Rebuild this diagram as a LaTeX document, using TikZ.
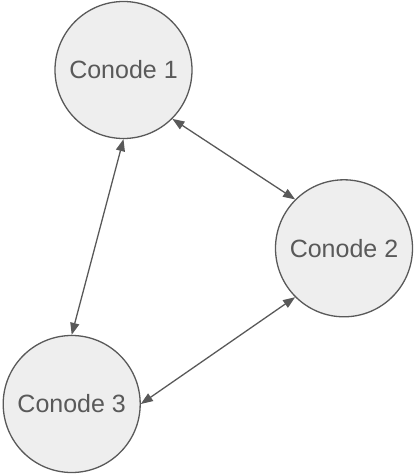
\documentclass[tikz,border=0pt]{standalone}
\usepackage{fontspec}
\setmainfont{Liberation Sans}
\usepackage{tikz}
\usetikzlibrary{shapes.geometric, arrows.meta}
\definecolor{conodeline}{HTML}{595959}
\definecolor{conodefill}{HTML}{EEEEEE}
\tikzstyle{conode} = [circle, minimum size=137pt, inner sep=0pt, text centered, line width=1.3pt, draw=conodeline, fill=conodefill, text=conodeline, font=\fontsize{25}{29}\selectfont]
\tikzstyle{arrow} = [line width=1.3pt, draw=conodeline, {Triangle[length=12pt,width=9pt]}-{Triangle[length=12pt,width=9pt]}]

\begin{document}
\begin{tikzpicture}[node distance=100pt, auto]
		\useasboundingbox (-123.5pt,70pt) rectangle (289.5pt,-404pt);
		\node (c1) [conode] {Conode 1};
		\node (c2) [conode, right of=c1, xshift=120.5pt, yshift=-178.3pt] {Conode 2};
		\node (c3) [conode, below of=c1, xshift=-51.8pt, yshift=-234pt] {Conode 3};
		\draw [arrow] (c1.south east) -- (c2.north west);
		\draw [arrow] (c2.south west) -- (c3.east);
		\draw [arrow] (c1.south) -- (c3.north);
	\end{tikzpicture}
\end{document}
